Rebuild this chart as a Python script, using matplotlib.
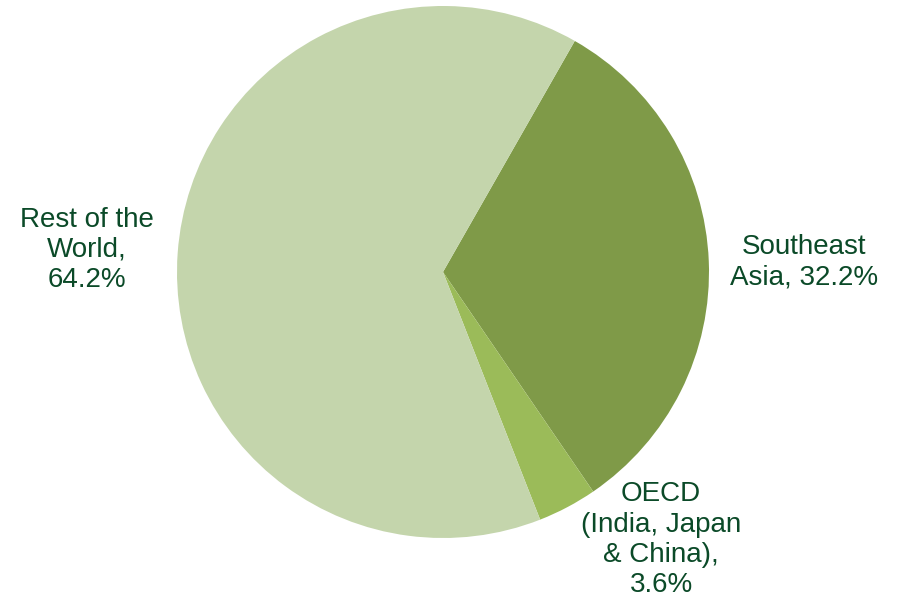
import matplotlib
matplotlib.use("Agg")
import matplotlib.pyplot as plt

labels = ["Southeast\nAsia, 32.2%", "OECD\n(India, Japan\n& China),\n3.6%", "Rest of the\nWorld,\n64.2%"]
shares = [32.2, 3.6, 64.2]
colors = ["#7F9A48", "#9BBB59", "#C4D5AC"]
label_pos = [(1.357, 0.036), (0.82, -1.007), (-1.338, 0.083)]

plt.rcParams['font.family'] = ['Liberation Sans', 'DejaVu Sans']

fig = plt.figure(figsize=(8.99, 6.04), dpi=100)
ax = fig.add_axes([177 / 899, 66 / 604, 532 / 899, 532 / 604])
ax.pie(shares, colors=colors, startangle=60.3, counterclock=False,
       radius=1.0, wedgeprops=dict(linewidth=0))
ax.set_xlim(-1, 1)
ax.set_ylim(-1, 1)
ax.set_aspect('equal')
ax.axis('off')

# slice labels sit outside the pie, centred on each block of text
for text, (x, y) in zip(labels, label_pos):
    ax.text(x, y, text, ha='center', va='center', fontsize=20,
            color='#0B4A28', linespacing=1.22, clip_on=False)

fig.savefig("out.png", dpi=100)
